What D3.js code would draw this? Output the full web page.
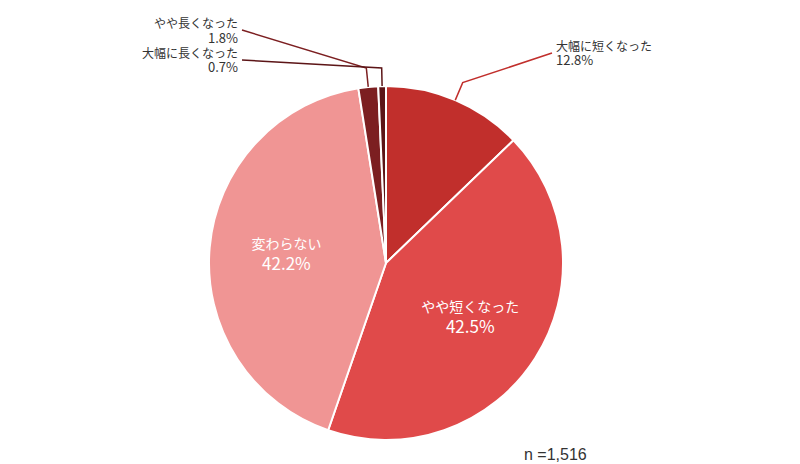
<!DOCTYPE html>
<html>
<head>
<meta charset="utf-8">
<script src="https://cdn.jsdelivr.net/npm/d3@7"></script>
<style>
  body { margin: 0; background: #fff; }
  text { font-family: "Noto Sans CJK JP", "Noto Sans", sans-serif; }
</style>
</head>
<body>
<div id="chart"></div>
<script>
// data, clockwise from 12 o'clock
categories = ["大幅に短くなった", "やや短くなった", "変わらない", "やや長くなった", "大幅に長くなった"]
values = [12.8, 42.5, 42.2, 1.8, 0.7]
colors = ["#c12f2c", "#e04a4a", "#f09594", "#7c1f21", "#5c1517"]
sampleLabel = "n =1,516"

const width = 800, height = 464
const cx = 386, cy = 263, radius = 177

const svg = d3.select("#chart").append("svg")
  .attr("width", width)
  .attr("height", height)

const g = svg.append("g").attr("transform", `translate(${cx},${cy})`)

const data = categories.map((c, i) => ({ name: c, value: values[i], color: colors[i] }))

const pie = d3.pie().sort(null).value(d => d.value)
const arcs = pie(data)

const arc = d3.arc().innerRadius(0).outerRadius(radius)

g.selectAll("path")
  .data(arcs)
  .join("path")
  .attr("d", arc)
  .attr("fill", d => d.data.color)
  .attr("stroke", "#fff")
  .attr("stroke-width", 2)

// big slices get labels inside
const inner = d3.arc().innerRadius(100).outerRadius(100)
arcs.filter(d => d.data.value > 20).forEach(d => {
  let [x, y] = inner.centroid(d)
  let t = g.append("text")
    .attr("text-anchor", "middle")
    .attr("fill", "#fff")
    .style("font-size", "14px")
  t.append("tspan").attr("x", x).attr("y", y - 5).text(d.data.name)
  t.append("tspan").attr("x", x).attr("y", y + 16).style("font-size", "17px").text(d.data.value + "%")
})

// small slices get leader lines to outside labels
// end = where the line stops next to the label (page coords)
outside = [
  { i: 0, elbowR: 196, end: [552, 53], anchor: "start", tx: 556, ty: 50.5 },
  { i: 3, elbowR: 196, end: [242, 30], anchor: "end", tx: 238, ty: 28 },
  { i: 4, elbowR: 196, end: [242, 60], anchor: "end", tx: 238, ty: 57.5 }
]

outside.forEach(o => {
  let d = arcs[o.i]
  let mid = (d.startAngle + d.endAngle) / 2
  let p0 = [Math.sin(mid) * radius, -Math.cos(mid) * radius]
  let p1 = [Math.sin(mid) * o.elbowR, -Math.cos(mid) * o.elbowR]
  if (o.i !== 0) p1[1] = -195   // small slices: vertical segment then slanted line
  let p2 = [o.end[0] - cx, o.end[1] - cy]
  g.append("polyline")
    .attr("points", [p0, p1, p2].map(p => p.join(",")).join(" "))
    .attr("fill", "none")
    .attr("stroke", d.data.color)
    .attr("stroke-width", 1.5)

  let t = svg.append("text")
    .attr("text-anchor", o.anchor)
    .attr("fill", "#333")
    .style("font-size", "12px")
  t.append("tspan").attr("x", o.tx).attr("y", o.ty).text(d.data.name)
  t.append("tspan").attr("x", o.tx).attr("y", o.ty + 14.5).style("font-size", "13px").text(d.data.value + "%")
})

svg.append("text")
  .attr("x", 524)
  .attr("y", 460)
  .attr("fill", "#333")
  .style("font-size", "16px")
  .style("font-family", "'Liberation Sans', sans-serif")
  .text(sampleLabel)
</script>
</body>
</html>
